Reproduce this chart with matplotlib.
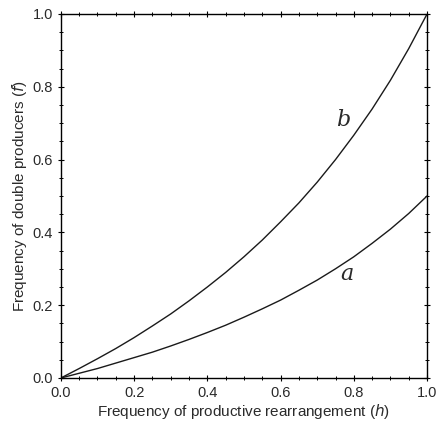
import matplotlib.pyplot as plt
from matplotlib.ticker import MultipleLocator

plt.rcParams["font.family"] = ["Liberation Sans", "DejaVu Sans"]

# values
h = [0.00, 0.05, 0.10, 0.15, 0.20, 0.25, 0.30, 0.35, 0.40, 0.45, 0.50,
     0.55, 0.60, 0.65, 0.70, 0.75, 0.80, 0.85, 0.90, 0.95, 1.00]
f_b = [0.000, 0.026, 0.053, 0.081, 0.111, 0.143, 0.176, 0.212, 0.250, 0.290, 0.333,
       0.379, 0.429, 0.481, 0.538, 0.600, 0.667, 0.739, 0.818, 0.905, 1.000]
f_a = [0.000, 0.013, 0.026, 0.041, 0.056, 0.071, 0.088, 0.106, 0.125, 0.145, 0.167,
       0.190, 0.214, 0.241, 0.269, 0.300, 0.333, 0.370, 0.409, 0.452, 0.500]

TEXT_C = "#2a2a2a"

fig = plt.figure(figsize=(4.38, 4.24), dpi=100)
ax = fig.add_axes([0.139, 0.1085, 0.836, 0.8585])

ax.plot(h, f_b, color="#1a1a1a", lw=1.0)
ax.plot(h, f_a, color="#1a1a1a", lw=1.0)

ax.text(0.77, 0.71, "b", fontsize=16, style="italic", family="DejaVu Serif",
        ha="center", va="center", color=TEXT_C)
ax.text(0.78, 0.285, "a", fontsize=16, style="italic", family="DejaVu Serif",
        ha="center", va="center", color=TEXT_C)

ax.set_xlim(0, 1)
ax.set_ylim(0, 1)
ax.xaxis.set_major_locator(MultipleLocator(0.2))
ax.yaxis.set_major_locator(MultipleLocator(0.2))
ax.xaxis.set_minor_locator(MultipleLocator(0.05))
ax.yaxis.set_minor_locator(MultipleLocator(0.05))
ax.tick_params(axis="both", which="major", labelsize=10.5, length=4, width=0.8,
               top=True, right=True, direction="inout", labelcolor=TEXT_C)
ax.tick_params(axis="both", which="minor", length=2.5, width=0.7,
               top=True, right=True, direction="inout")
ax.xaxis.set_major_formatter(plt.FormatStrFormatter("%.1f"))
ax.yaxis.set_major_formatter(plt.FormatStrFormatter("%.1f"))
for s in ax.spines.values():
    s.set_linewidth(1.0)

ax.set_xlabel("Frequency of productive rearrangement ($\\it{h}$)", fontsize=11,
              labelpad=2, color=TEXT_C)
ax.set_ylabel("Frequency of double producers ($\\it{f}$)", fontsize=11,
              labelpad=3, color=TEXT_C)

fig.savefig("out.png", dpi=100)
